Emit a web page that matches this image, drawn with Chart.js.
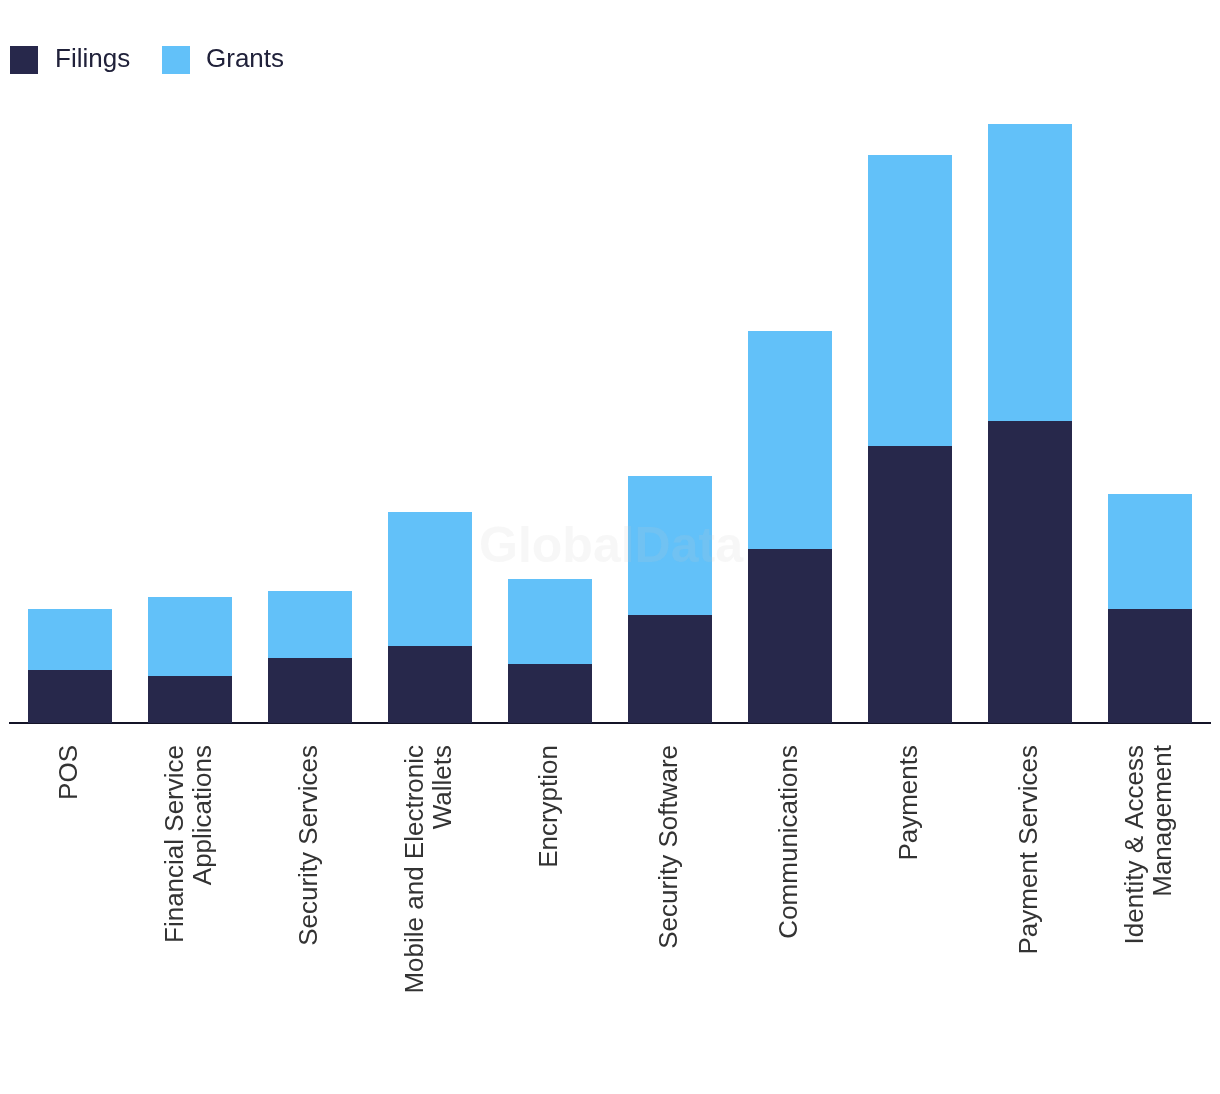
<!DOCTYPE html>
<html>
<head>
<meta charset="utf-8">
<script src="https://cdn.jsdelivr.net/npm/chart.js@4/dist/chart.umd.min.js"></script>
<style>
  html, body { margin: 0; padding: 0; background: #ffffff; }
  #wrap { position: relative; width: 1220px; height: 1094px; }
  #legend { position: absolute; left: 0; top: 0; width: 1220px; height: 100px; font-family: "Liberation Sans", Arial, sans-serif; }
  .lg-box { position: absolute; width: 28px; height: 28px; top: 46px; }
  .lg-text { position: absolute; top: 42px; font-size: 26px; line-height: 32px; color: #20213a; }
  canvas { position: absolute; left: 0; top: 0; }
</style>
</head>
<body>
<div id="wrap">
  <canvas id="chart" width="1220" height="1094"></canvas>
  <div id="legend">
    <div class="lg-box" style="left:10px;background:#27284b"></div>
    <div class="lg-text" style="left:55px">Filings</div>
    <div class="lg-box" style="left:162px;background:#62c1f9"></div>
    <div class="lg-text" style="left:206px">Grants</div>
  </div>
</div>
<script>
const categories = [
  "POS",
  ["Financial Service", "Applications"],
  "Security Services",
  ["Mobile and Electronic", "Wallets"],
  "Encryption",
  "Security Software",
  "Communications",
  "Payments",
  "Payment Services",
  ["Identity & Access", "Management"]
];
const filings = [53, 47, 65, 77, 59, 108, 174, 277, 302, 114];
const grants  = [61, 79, 67, 134, 85, 139, 218, 291, 297, 115];
const seriesNames = ["Filings", "Grants"];
const seriesColors = ["#27284b", "#62c1f9"];

const TICK_SIZE = 26;
const TICK_LH = 1.1;

const watermark = {
  id: 'watermark',
  afterDatasetsDraw(chart) {
    const ctx = chart.ctx;
    ctx.save();
    ctx.font = 'bold 50px "Liberation Sans", Arial, sans-serif';
    ctx.fillStyle = 'rgba(200,200,200,0.15)';
    ctx.textAlign = 'center';
    ctx.textBaseline = 'middle';
    ctx.fillText('GlobalData', 611, 548);
    ctx.restore();
  }
};

// centre multi-line rotated labels as a block on their tick
const centerLabels = {
  id: 'centerLabels',
  afterUpdate(chart) {
    const sc = chart.scales.x;
    const items = sc.getLabelItems();
    const lh = TICK_SIZE * TICK_LH;
    items.forEach(it => {
      const n = Array.isArray(it.label) ? it.label.length : 1;
      if (n > 1) it.options.translation[0] -= (n - 1) * lh / 2;
    });
  }
};

const chart = new Chart(document.getElementById('chart'), {
  type: 'bar',
  data: {
    labels: categories,
    datasets: [
      { label: seriesNames[0], data: filings, backgroundColor: seriesColors[0], barPercentage: 0.7, categoryPercentage: 1.0 },
      { label: seriesNames[1], data: grants, backgroundColor: seriesColors[1], barPercentage: 0.7, categoryPercentage: 1.0 }
    ]
  },
  options: {
    responsive: false,
    animation: false,
    layout: { padding: { left: 10, right: 10, top: 100, bottom: 0 } },
    plugins: { legend: { display: false }, tooltip: { enabled: false } },
    scales: {
      x: {
        stacked: true,
        grid: { display: false, drawTicks: false },
        border: { display: true, color: '#141428', width: 2 },
        ticks: {
          autoSkip: false, minRotation: 90, maxRotation: 90, padding: 22,
          color: '#333333',
          font: { family: '"Liberation Sans", Arial, sans-serif', size: TICK_SIZE, lineHeight: TICK_LH }
        },
        afterFit(scale) {
          scale.height = 1094 - 723;
          scale.paddingLeft = 0;
          scale.paddingRight = 0;
        }
      },
      y: {
        stacked: true, display: false, min: 0, max: 623
      }
    }
  },
  plugins: [watermark, centerLabels]
});
</script>
</body>
</html>
